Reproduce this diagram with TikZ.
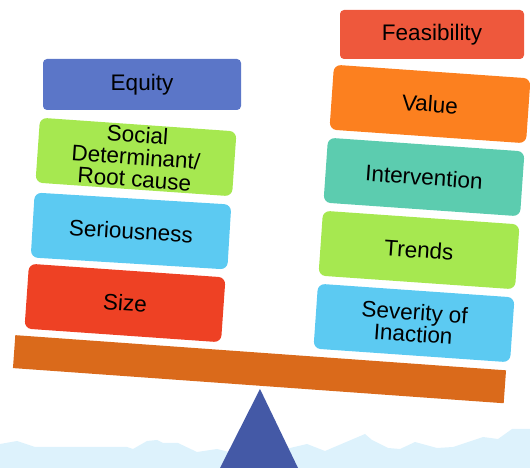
\documentclass[tikz,border=0pt]{standalone}
\usepackage{fontspec}
\setmainfont{Liberation Sans}
\definecolor{cEquity}{HTML}{5B76C8}
\definecolor{cGreen}{HTML}{A6E850}
\definecolor{cSky}{HTML}{5CCAF2}
\definecolor{cSize}{HTML}{EE4124}
\definecolor{cFeas}{HTML}{EE583C}
\definecolor{cValue}{HTML}{FC801F}
\definecolor{cInter}{HTML}{5CCCAF}
\definecolor{cBeam}{HTML}{DA6A1B}
\definecolor{cTri}{HTML}{4459A6}
\definecolor{cSnow}{HTML}{DDF2FC}
\begin{document}
\begin{tikzpicture}[x=1pt,y=1pt,
  blockbox/.style={rounded corners=7pt, minimum width=197pt, minimum height=65pt,
    inner sep=0pt, align=center, text=black,
    font=\fontsize{22.5}{22}\selectfont},
  flatbox/.style={blockbox, rounded corners=4pt}]
\useasboundingbox (0,0) rectangle (530,468);
% snowy hills
\fill[cSnow] (0,0) -- (0,24) -- (17,27) -- (35,21) -- (127,21) -- (133,19) -- (147,27)
  -- (157,28) -- (163,25) -- (178,25) -- (197,16) -- (217,19) -- (233,15) -- (290,20)
  -- (307,24) -- (325,17) -- (365,34) -- (372,28) -- (388,20) -- (400,19) -- (415,26)
  -- (437,20) -- (453,21) -- (483,31) -- (498,29) -- (512,39) -- (530,39) -- (530,0) -- cycle;
% fulcrum
\fill[cTri] (260,79) -- (298,0) -- (220,0) -- cycle;
% beam
\node[fill=cBeam, minimum width=492pt, minimum height=33pt, inner sep=0pt, rotate=-4.1]
  (beam) at (259.5,98.8) {};
% left column
\node[flatbox, fill=cEquity, minimum width=198pt, minimum height=51pt] (equity) at (142,383.5) {Equity};
\node[blockbox, fill=cGreen, rotate=-4] (social) at (136,311) {Social\\Determinant/\\Root cause};
\node[blockbox, fill=cSky, rotate=-3.5] (serious) at (131,237) {Seriousness};
\node[blockbox, fill=cSize, rotate=-4] (size) at (125,165) {Size};
% right column
\node[flatbox, fill=cFeas, minimum width=184pt, minimum height=49pt] (feas) at (432,433.5) {Feasibility};
\node[blockbox, fill=cValue, rotate=-4] (value) at (430,364) {Value};
\node[blockbox, fill=cInter, rotate=-4] (inter) at (424,291) {Intervention};
\node[blockbox, fill=cGreen, rotate=-4] (trends) at (419,218) {Trends};
\node[blockbox, fill=cSky, rotate=-4] (severity) at (414,145) {Severity of\\Inaction};
\end{tikzpicture}
\end{document}
